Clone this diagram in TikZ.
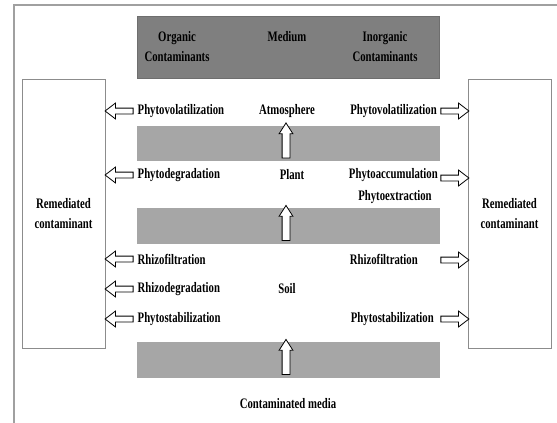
\documentclass[tikz,border=0pt]{standalone}
\usepackage{fontspec}
\setmainfont{Liberation Serif}[FakeStretch=0.74]
\usetikzlibrary{shapes.arrows,calc}
\definecolor{hdrgray}{HTML}{7F7F7F}
\definecolor{hdredge}{HTML}{6E6E6E}
\definecolor{bargray}{HTML}{A6A6A6}
\definecolor{boxedge}{HTML}{8C8C8C}
\definecolor{outeredge}{HTML}{A0A0A0}
\begin{document}
\begin{tikzpicture}[x=1pt,y=-1pt,
  lbl/.style={font=\bfseries\fontsize{14.5}{20}\selectfont, inner sep=0pt, align=center, text=black},
  hdrbox/.style={fill=hdrgray, draw=hdredge, line width=0.6pt},
  barbox/.style={fill=bargray, draw=none},
  rembox/.style={draw=boxedge, line width=1pt, fill=white},
  harrow/.style={single arrow, draw=black, fill=white, line width=0.8pt,
    minimum height=28pt, minimum width=15pt, single arrow head extend=5pt,
    single arrow tip angle=75, inner sep=2.5pt},
  varrow/.style={single arrow, draw=black, fill=white, line width=0.8pt,
    minimum height=35pt, minimum width=13pt, single arrow head extend=3pt,
    single arrow tip angle=65, inner sep=3.5pt, shape border rotate=90}
]
\useasboundingbox (0,0) rectangle (557,423);
% outer frame (top and left edges visible)
\draw[outeredge, line width=1.3pt] (557,5) -- (14,5) -- (14,423);
% header
\draw[hdrbox] (137,16) rectangle (439,78);
\node[lbl] (horg) at (177,47) {Organic\\Contaminants};
\node[lbl] (hmed) at (287,37) {Medium};
\node[lbl] (hinorg) at (385,47) {Inorganic\\Contaminants};
% remediated boxes
\node[rembox, minimum width=83pt, minimum height=269pt, inner sep=0pt] (lbox) at (63.5,213.5) {};
\node[rembox, minimum width=83pt, minimum height=269pt, inner sep=0pt] (rbox) at (509.5,213.5) {};
\node[lbl] (ltxt) at (lbox.center) {Remediated\\contaminant};
\node[lbl] (rtxt) at (rbox.center) {Remediated\\contaminant};
% bars
\node[barbox, minimum width=303pt, minimum height=35pt, inner sep=0pt] (bar1) at (288.5,143.5) {};
\node[barbox, minimum width=303pt, minimum height=36pt, inner sep=0pt] (bar2) at (288.5,226) {};
\node[barbox, minimum width=303pt, minimum height=36pt, inner sep=0pt] (bar3) at (288.5,360) {};
\node[varrow] (up1) at (286,143.5) {};
\node[varrow] (up2) at (286,226) {};
\node[varrow] (up3) at (286,360) {};
% medium labels
\node[lbl] (atm) at (287,111) {Atmosphere};
\node[lbl] (plant) at (292,175) {Plant};
\node[lbl] (soil) at (287,289) {Soil};
\node[lbl] (cmed) at (288,404) {Contaminated media};
% left processes
\node[lbl, anchor=west] (l1) at (137.5,111) {Phytovolatilization};
\node[lbl, anchor=west] (l2) at (137.5,175) {Phytodegradation};
\node[lbl, anchor=west] (l3) at (137.5,259) {Rhizofiltration};
\node[lbl, anchor=west] (l4) at (137.5,289) {Rhizodegradation};
\node[lbl, anchor=west] (l5) at (137.5,319) {Phytostabilization};
% right processes
\node[lbl, anchor=east] (r1) at (437,111) {Phytovolatilization};
\node[lbl, anchor=east] (r2) at (438,175) {Phytoaccumulation};
\node[lbl] (r2b) at (395,197) {Phytoextraction};
\node[lbl, anchor=east] (r3) at (418,259) {Rhizofiltration};
\node[lbl, anchor=east] (r5) at (434,319) {Phytostabilization};
% left arrows
\foreach \n/\yy in {1/111,2/175,3/259,4/289,5/319}{
  \node[harrow, shape border rotate=180] (la\n) at (121,\yy) {};
}
% right arrows
\foreach \n/\yy in {1/111,2/178,3/260,5/319}{
  \node[harrow] (ra\n) at (453,\yy) {};
}
\end{tikzpicture}
\end{document}
